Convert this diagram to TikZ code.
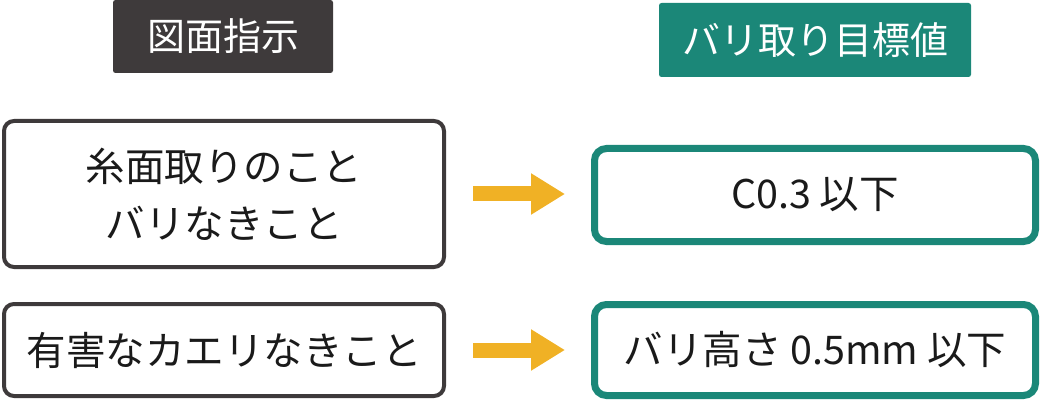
\documentclass[tikz,border=0pt]{standalone}
\usepackage{fontspec}
\setmainfont{Noto Sans CJK JP}
\usetikzlibrary{arrows.meta}
\definecolor{darkgray}{HTML}{3E3A3B}
\definecolor{teal}{HTML}{1B8778}
\definecolor{amber}{HTML}{F0B125}
\definecolor{ink}{HTML}{1A1A1A}
\tikzset{
  header/.style={fill=#1, text=white, rounded corners=2.5pt, inner sep=0pt,
    font=\fontsize{38}{40}\selectfont},
  leftbox/.style={draw=darkgray, line width=4pt, rounded corners=10pt, fill=white,
    minimum width=440pt, inner sep=0pt, text=ink, align=center,
    font=\fontsize{39.5}{57}\selectfont},
  rightbox/.style={draw=teal, line width=7pt, rounded corners=12pt, fill=white,
    minimum width=441pt, inner sep=0pt, text=ink, align=center,
    font=\fontsize{39.5}{57}\selectfont},
  flow/.style={draw=amber, line width=15pt,
    -{Triangle[length=34pt,width=39pt]}, shorten <=27pt, shorten >=26pt},
}
\begin{document}
\begin{tikzpicture}[x=1pt,y=-1pt]
\useasboundingbox (0,0) rectangle (1040,403);
\node[header=darkgray, minimum width=220pt, minimum height=73pt] (h1) at (223,36.5) {図面指示};
\node[header=teal, minimum width=312pt, minimum height=74pt] (h2) at (815,40) {バリ取り目標値};
\node[leftbox, minimum height=146pt] (l1) at (224,194) {糸面取りのこと\\バリなきこと};
\node[leftbox, minimum height=92pt] (l2) at (224,350) {有害なカエリなきこと};
\node[rightbox, minimum height=93pt] (r1) at (815,195) {C0.3 以下};
\node[rightbox, minimum height=91pt] (r2) at (815,350) {バリ高さ 0.5mm 以下};
\draw[flow] (l1.east) -- (l1.east -| r1.west);
\draw[flow] (l2.east) -- (r2.west);
\end{tikzpicture}
\end{document}
